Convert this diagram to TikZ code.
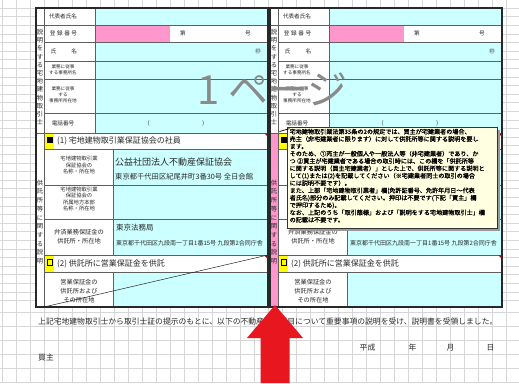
\documentclass[tikz,border=0pt]{standalone}
\usepackage{fontspec}
\setmainfont{Noto Sans CJK JP}
\newfontfamily\tipfont{Noto Sans CJK JP}[FakeBold=0.9]
\definecolor{cellcyan}{RGB}{204,255,255}
\definecolor{cellpink}{RGB}{255,150,204}
\definecolor{gridc}{RGB}{214,214,214}
\definecolor{framec}{RGB}{40,40,40}
\definecolor{linec}{RGB}{95,95,95}
\definecolor{wmark}{RGB}{138,138,138}
\definecolor{tipbg}{RGB}{255,255,225}
\definecolor{arrowred}{RGB}{232,22,30}
\definecolor{markyellow}{RGB}{255,255,0}
\definecolor{cmtred}{RGB}{170,0,0}
\definecolor{txtc}{RGB}{40,40,40}
\tikzset{
  lbl/.style={font={\fontsize{5.6}{6.5}\selectfont}, align=center, inner sep=0pt, text=txtc},
  tinylbl/.style={font={\fontsize{4.6}{6}\selectfont}, align=center, inner sep=0pt, text=txtc},
  smalllbl/.style={font={\fontsize{5.3}{6.1}\selectfont}, align=center, inner sep=0pt, text=txtc},
  lbltwo/.style={font={\fontsize{6.2}{8.8}\selectfont}, align=center, inner sep=0pt, text=txtc},
  vtexta/.style={font={\fontsize{6.3}{8.2}\selectfont}, align=center, inner sep=0pt, text=txtc},
  vtextb/.style={font={\fontsize{6.3}{8.7}\selectfont}, align=center, inner sep=0pt, text=txtc},
  hdr/.style={font={\fontsize{8}{9}\selectfont}, anchor=west, inner sep=0pt, text=txtc},
  valbig/.style={font={\fontsize{9}{10}\selectfont}, anchor=west, inner sep=0pt, text=txtc},
  valmid/.style={font={\fontsize{7.5}{9}\selectfont}, anchor=west, inner sep=0pt, text=txtc},
  valsmall/.style={font={\fontsize{7.3}{8}\selectfont}, anchor=west, inner sep=0pt, text=txtc},
  valtiny/.style={font={\fontsize{6}{7}\selectfont}, anchor=west, inner sep=0pt, text=txtc},
  gridl/.style={draw=gridc, line width=0.4pt},
  cellline/.style={draw=linec, line width=0.5pt},
  outerframe/.style={draw=framec, line width=1.2pt},
  bottomtxt/.style={font={\fontsize{7.8}{9}\selectfont}, inner sep=0pt, text=txtc},
}
\newcommand\drawform[3]{%
\begin{scope}[xshift=#1]
  \fill[white] (36,8) rectangle (268,307);
  \fill[#3] (36,133) rectangle (44,307);
  \fill[cellcyan] (95,8) rectangle (268,25);
  \fill[cellpink] (95,25) rectangle (170,42);
  \fill[cellcyan] (95,42) rectangle (268,133);
  \fill[cellcyan] (113,149) rectangle (268,255);
  \fill[cellcyan] (113,272) rectangle (268,307);
  \fill[markyellow] (44.5,133.5) rectangle (54,148.5);
  \fill[markyellow] (44.5,255.5) rectangle (54,271.5);
  \fill[black] (46.5,136.5) rectangle (52.5,142.5);
  \draw[black,line width=0.6pt] (47,259.5) rectangle (52.5,265);
  \draw[cellline] (36,25) -- (268,25);
  \foreach \yy in {42,61,79,113} {\draw[cellline] (44,\yy) -- (268,\yy);}
  \draw[cellline] (36,133) -- (268,133);
  \foreach \yy in {149,185,219,255,272} {\draw[cellline] (44,\yy) -- (268,\yy);}
  \draw[cellline] (44,8) -- (44,307);
  \draw[cellline] (95,8) -- (95,133);
  \draw[cellline] (113,149) -- (113,255);
  \draw[cellline] (113,272) -- (113,307);
  \draw[outerframe] (36,8) rectangle (268,307);
  \node[lbl] (#2a) at (63,16.5) {代表者氏名};
  \node[lbl] (#2b) at (63.5,33.5) {登\hspace{1.6pt}録\hspace{1.6pt}番\hspace{1.6pt}号};
  \node[lbl] (#2c) at (64,51.5) {氏\hspace{15pt}名};
  \node[tinylbl] (#2d) at (63,70) {業務に従事\\する事務所名};
  \node[tinylbl] (#2e) at (63,95) {業務に従事\\する\\事務所所在地};
  \node[lbl] (#2f) at (63,123) {電話番号};
  \node[lbl] (#2g) at (183,33.5) {第};
  \node[lbl] (#2h) at (248,33.5) {号};
  \node[lbl] (#2i) at (258,51.5) {㊞};
  \node[lbl] (#2j) at (147,123) {（};
  \node[lbl] (#2k) at (205,123) {）};
  \node[hdr] (#2l) at (57,141) {(1) 宅地建物取引業保証協会の社員};
  \node[smalllbl] (#2m) at (79,165) {宅地建物取引業\\保証協会の\\名称・所在地};
  \node[valbig] (#2n) at (115,162) {公益社団法人不動産保証協会};
  \node[valsmall] (#2o) at (115,177) {東京都千代田区紀尾井町3番30号 全日会館};
  \node[smalllbl] (#2p) at (79,199) {宅地建物取引業\\保証協会の\\所属地方本部\\名称・所在地};
  \node[lbltwo] (#2q) at (79,237) {弁済業務保証金の\\供託所・所在地};
  \node[valmid] (#2r) at (116,228) {東京法務局};
  \node[valtiny] (#2s) at (116,243) {東京都千代田区九段南一丁目1番15号 九段第2合同庁舎};
  \node[hdr] (#2t) at (57,263.5) {(2) 供託所に営業保証金を供託};
  \node[lbltwo] (#2u) at (79,291) {営業保証金の\\供託所および\\その所在地};
  \node[vtexta] (#2v) at (40,77) {説\\明\\を\\す\\る\\宅\\地\\建\\物\\取\\引\\士};
  \node[vtextb] (#2w) at (40,222) {供\\託\\所\\等\\に\\関\\す\\る\\説\\明};
\end{scope}}
\begin{document}
\begin{tikzpicture}[x=1pt,y=-1pt]
  \useasboundingbox (0,0) rectangle (519,383);
  \fill[white] (0,0) rectangle (519,383);
  % spreadsheet grid
  \foreach \i in {0,...,37} {\draw[gridl] ({2+14*\i},0) -- ({2+14*\i},383);}
  \foreach \i in {0,...,34} {\draw[gridl] (0,{8+8.6*\i}) -- (519,{8+8.6*\i});}
  \foreach \i in {0,...,5} {\draw[gridl] (0,{312+14*\i}) -- (519,{312+14*\i});}
  % the two form copies
  \drawform{0pt}{L}{white}
  \drawform{234pt}{R}{cellpink}
  % diagonal strike line in left form
  \draw[black!85,line width=0.5pt] (44,307) -- (268,255);
  % comment markers
  \foreach \cx/\cy in {268/133,268/255,502/133,502/255}
    {\fill[cmtred] (\cx-3.5,\cy+0.5) -- (\cx-0.5,\cy+0.5) -- (\cx-0.5,\cy+3.5) -- cycle;}
  % page watermark
  \node[font={\fontsize{40}{40}\selectfont}, text=wmark, anchor=west, inner sep=0pt] (wm) at (197,89) {1 ページ};
  % bottom texts
  \node[bottomtxt, anchor=west] (note) at (38,322) {上記宅地建物取引士から取引士証の提示のもとに、以下の不動産の各項目について重要事項の説明を受け、説明書を受領しました。};
  \node[bottomtxt, anchor=west] (buyer) at (38,358) {買主};
  \node[bottomtxt] (heisei) at (367.5,348) {平成};
  \node[bottomtxt] (nen) at (412.5,348) {年};
  \node[bottomtxt] (tsuki) at (450.5,348) {月};
  \node[bottomtxt] (hi) at (490.5,348) {日};
  % comment tooltip
  \fill[black!40] (290,130) rectangle (500,231);
  \fill[tipbg] (287,127) rectangle (497,228);
  \draw[black!80,line width=0.5pt] (287,127) rectangle (497,228);
  \coordinate (cmtcell) at (279.5,131.5);
  \node[font={\tipfont\fontsize{6.1}{7.35}\selectfont}, align=left, anchor=north west, inner sep=0pt, text=black] (tip) at (289.5,128.6) {宅地建物取引業法第35条の2の規定では、買主が宅建業者の場合、\\売主（非宅建業者に限ります）に対して供託所等に関する説明を要し\\ます。\\そのため、①売主が一般個人や一般法人等（非宅建業者）であり、か\\つ ②買主が宅建業者である場合の取引時には、この欄を「供託所等\\に関する説明（買主宅建業者）」とした上で、供託所等に関する説明と\\して(1)または(2)を記載してください（※宅建業者同士の取引の場合\\には説明不要です）。\\また、上部「宅地建物取引業者」欄(免許証番号、免許年月日～代表\\者氏名)部分のみ記載してください。押印は不要です(下記「買主」欄\\で押印するため)。\\なお、上記のうち「取引態様」および「説明をする宅地建物取引士」欄\\の記載は不要です。};
  \draw[black,line width=0.7pt] (cmtcell) -- (tip.north west);
  % red arrow
  \fill[arrowred] (275,305) -- (303,338) -- (289.5,338) -- (289.5,383) -- (260.5,383) -- (260.5,338) -- (247,338) -- cycle;
\end{tikzpicture}
\end{document}
